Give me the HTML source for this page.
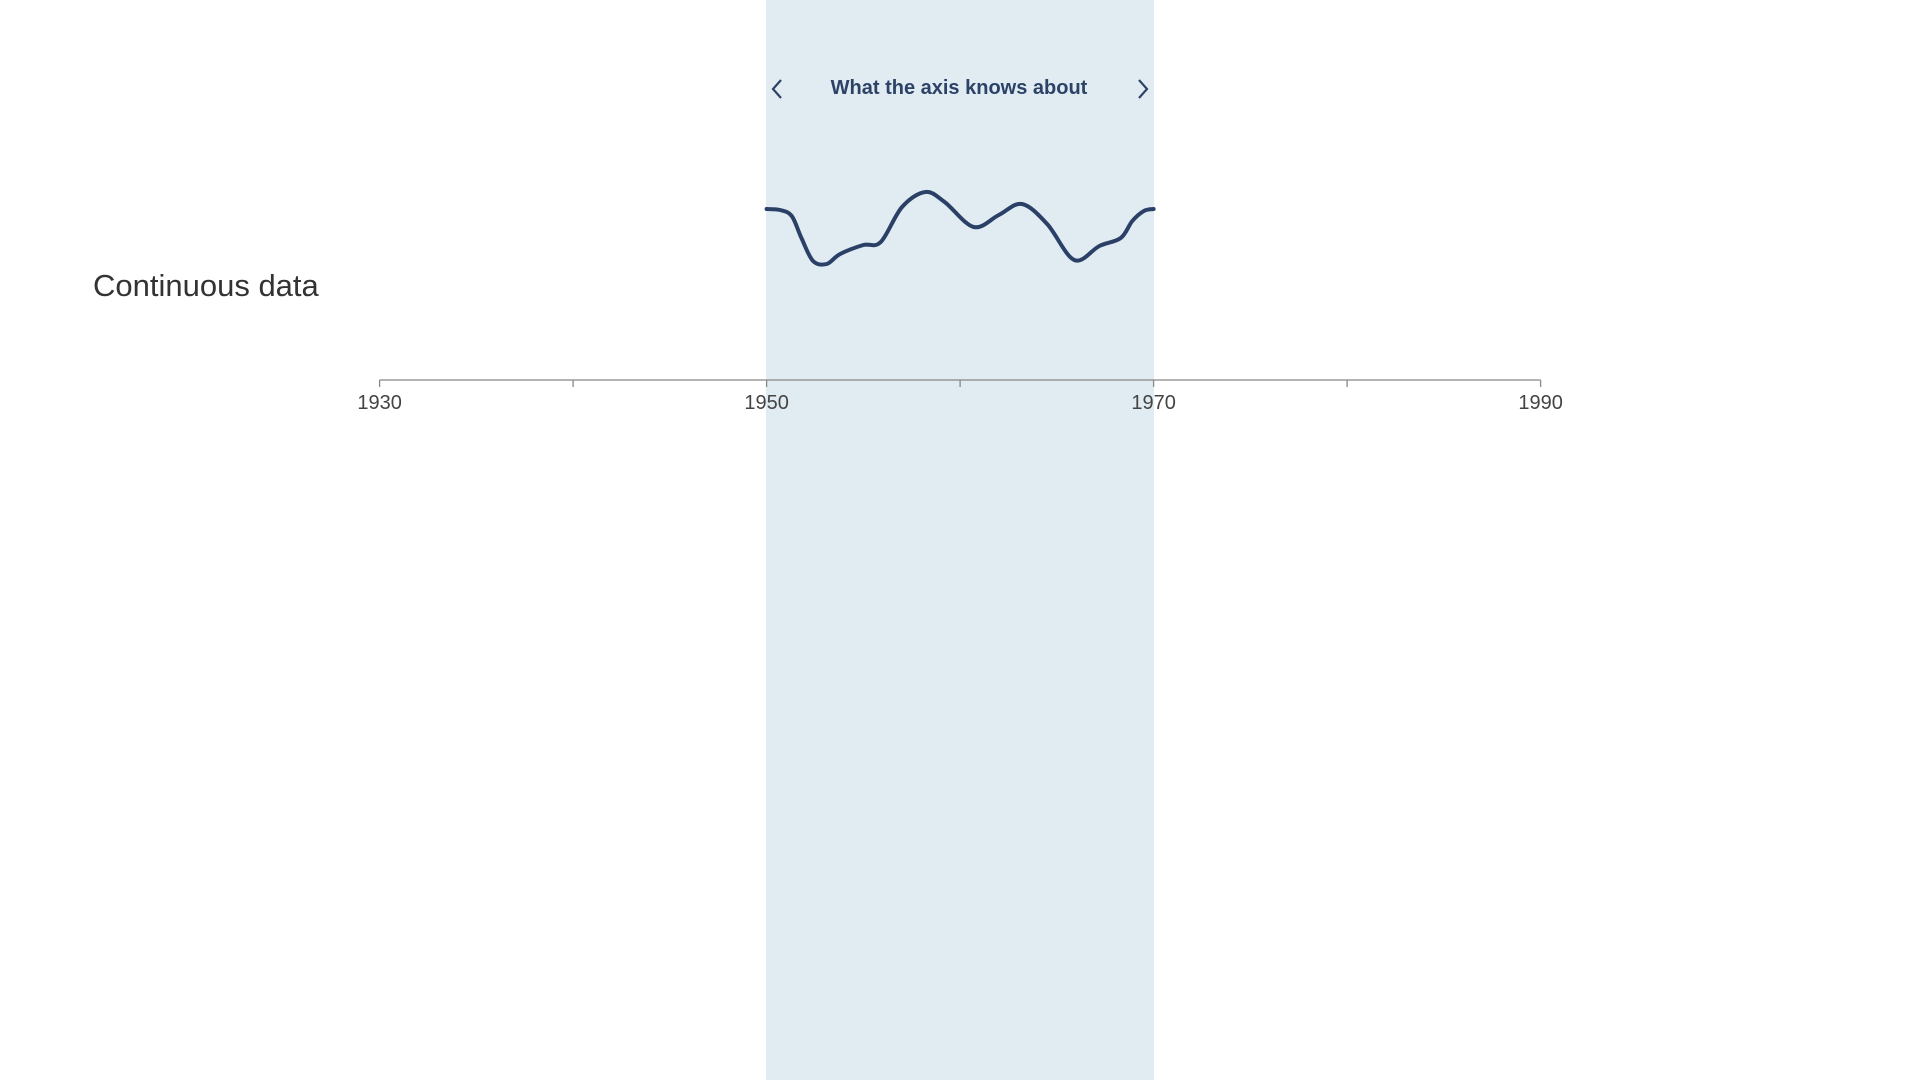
<!DOCTYPE html>
<html><head><meta charset="utf-8"><style>
html,body{margin:0;padding:0;background:#fff;width:1920px;height:1080px;overflow:hidden}
svg{display:block;font-family:"Liberation Sans",sans-serif}
</style></head><body>
<svg id="chart" width="1920" height="1080">
<rect x="766" y="0" width="388" height="1080" fill="#e1ebf2"/>
<text x="93" y="296" font-size="31" fill="#333" font-weight="300">Continuous data</text>
<text x="959" y="94" font-size="20" font-weight="bold" fill="#2c4266" text-anchor="middle">What the axis knows about</text>
<path d="M781 80 L773 89 L781 98" fill="none" stroke="#2c4266" stroke-width="2.2"/>
<path d="M1139 80 L1147 89 L1139 98" fill="none" stroke="#2c4266" stroke-width="2.2"/>
<g id="axis"></g>
<path id="line" fill="none" stroke="#2a4066" stroke-width="4" stroke-linecap="round"/>
</svg>
<script>
const years=[1950,1950.7,1951.3,1951.8,1952.4,1953.1,1953.8,1955.0,1955.9,1957,1958.2,1959.2,1960.7,1962,1963.2,1964.5,1965.9,1967.2,1968.3,1968.9,1969.5,1970];
const values=[2.1,2.0,1.4,-0.8,-3.1,-3.4,-2.4,-1.5,-1.2,2.3,3.8,2.8,0.3,1.5,2.6,0.6,-3.0,-1.6,-0.8,0.9,1.9,2.1];
const tickYears=[1930,1940,1950,1960,1970,1980,1990];
const tickLabels=["1930","","1950","","1970","","1990"];
const x=y=>379.6+(y-1930)*19.35;
const yv=v=>230-v*10;
const axisY=380;
const ns="http://www.w3.org/2000/svg";
const ax=document.getElementById('axis');
const base=document.createElementNS(ns,'line');


base.setAttribute('x1',x(1930));base.setAttribute('x2',x(1990));
base.setAttribute('y1',axisY);base.setAttribute('y2',axisY);
base.setAttribute('stroke','#888');base.setAttribute('stroke-width','1.3');
ax.appendChild(base);
tickYears.forEach((t,i)=>{
 const l=document.createElementNS(ns,'line');
 
 
 l.setAttribute('x1',x(t));l.setAttribute('x2',x(t));
 l.setAttribute('y1',axisY);l.setAttribute('y2',axisY+7);
 l.setAttribute('stroke','#888');l.setAttribute('stroke-width','1.3');
 ax.appendChild(l);
 if(tickLabels[i]){
  const tx=document.createElementNS(ns,'text');
  
  
  tx.setAttribute('x',x(t));tx.setAttribute('y',axisY+29);
  tx.setAttribute('text-anchor','middle');tx.setAttribute('font-size','20');tx.setAttribute('fill','#444');
  tx.textContent=tickLabels[i];ax.appendChild(tx);
 }
});
const pts=years.map((yr,i)=>[x(yr),yv(values[i])]);
let d='M'+pts[0][0]+' '+pts[0][1];
for(let i=0;i<pts.length-1;i++){
 const p0=pts[Math.max(0,i-1)],p1=pts[i],p2=pts[i+1],p3=pts[Math.min(pts.length-1,i+2)];
 const c1=[p1[0]+(p2[0]-p0[0])/6,p1[1]+(p2[1]-p0[1])/6];
 const c2=[p2[0]-(p3[0]-p1[0])/6,p2[1]-(p3[1]-p1[1])/6];
 d+=' C'+c1+' '+c2+' '+p2;
}
document.getElementById('line').setAttribute('d',d);
</script>
</body></html>
